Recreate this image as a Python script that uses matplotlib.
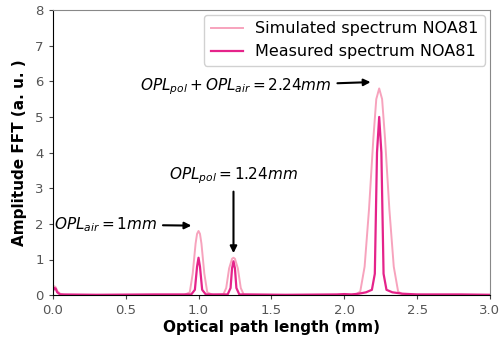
import matplotlib.pyplot as plt
import numpy as np

# Espectro simulado (x em mm, amplitude em u.a.)
sim_x = [0.0, 0.01, 0.02, 0.03, 0.05, 0.08, 0.5, 0.9, 0.94, 0.96, 0.98, 0.99, 1.0, 1.01, 1.02, 1.04, 1.06,
         1.10, 1.17, 1.19, 1.21, 1.23, 1.24, 1.25, 1.27, 1.29, 1.31, 1.6, 2.0, 2.08, 2.11, 2.14, 2.17,
         2.20, 2.22, 2.24, 2.26, 2.28, 2.31, 2.34, 2.37, 2.40, 2.6, 3.0]
sim_y = [0.15, 0.25, 0.22, 0.12, 0.04, 0.0, 0.0, 0.0, 0.08, 0.6, 1.45, 1.72, 1.8, 1.72, 1.45, 0.6, 0.08,
         0.0, 0.02, 0.2, 0.75, 1.02, 1.05, 1.02, 0.75, 0.2, 0.02, 0.0, 0.0, 0.02, 0.1, 0.8, 2.4,
         4.4, 5.5, 5.8, 5.5, 4.4, 2.4, 0.8, 0.1, 0.02, 0.0, 0.0]

# Espectro medido
mea_x = [0.0, 0.01, 0.02, 0.03, 0.05, 0.3, 0.7, 0.95, 0.975, 0.99, 1.0, 1.01, 1.025, 1.05, 1.2, 1.22,
         1.23, 1.24, 1.25, 1.26, 1.28, 1.6, 1.95, 2.0, 2.05, 2.1, 2.15, 2.19, 2.21, 2.225, 2.24, 2.255,
         2.27, 2.29, 2.33, 2.4, 2.5, 2.8, 3.0]
mea_y = [0.1, 0.2, 0.18, 0.08, 0.02, 0.01, 0.02, 0.02, 0.15, 0.8, 1.05, 0.8, 0.15, 0.02, 0.02, 0.2,
         0.75, 0.95, 0.75, 0.2, 0.02, 0.01, 0.02, 0.03, 0.02, 0.04, 0.08, 0.15, 0.6, 4.0, 5.0, 4.0,
         0.6, 0.15, 0.08, 0.04, 0.02, 0.02, 0.01]

fig = plt.figure(figsize=(5.03, 3.46), dpi=100)
ax = fig.add_axes([0.105, 0.147, 0.869, 0.824])

ax.plot(sim_x, sim_y, color='#f7a3bd', linewidth=1.4, label='Simulated spectrum NOA81')
ax.plot(mea_x, mea_y, color='#e5238a', linewidth=1.6, label='Measured spectrum NOA81')

ax.set_xlim(0, 3.0)
ax.set_ylim(0, 8)
ax.set_xticks(np.arange(0, 3.01, 0.5))
ax.set_yticks(range(0, 9))
ax.tick_params(labelsize=9.5, colors='#444444', labelcolor='#555555', length=3)

for s in ['top', 'right']:
    ax.spines[s].set_color('#888888')
ax.spines['left'].set_color('black')
ax.spines['bottom'].set_color('black')

ax.set_xlabel('Optical path length (mm)', fontsize=11, fontweight='bold', labelpad=2)
ax.set_ylabel('Amplitude FFT (a. u. )', fontsize=11, fontweight='bold', labelpad=6)

# Anotações dos picos
arrow = dict(arrowstyle='-|>', color='black', linewidth=1.5, mutation_scale=10)
ax.annotate('$OPL_{air} = 1mm$', xy=(0.97, 1.95), xytext=(0.01, 1.98), fontsize=11,
            va='center', ha='left', arrowprops=arrow)
ax.annotate('$OPL_{pol} = 1.24mm$', xy=(1.24, 1.1), xytext=(1.24, 3.35), fontsize=11,
            va='center', ha='center', arrowprops=arrow)
ax.annotate('$OPL_{pol} + OPL_{air} = 2.24mm$', xy=(2.2, 5.98), xytext=(0.6, 5.85), fontsize=11,
            va='center', ha='left', arrowprops=arrow)

ax.legend(loc='upper right', fontsize=11.5, framealpha=0.9, handlelength=2.0, borderaxespad=0.3)

fig.savefig('out.png', dpi=100)
